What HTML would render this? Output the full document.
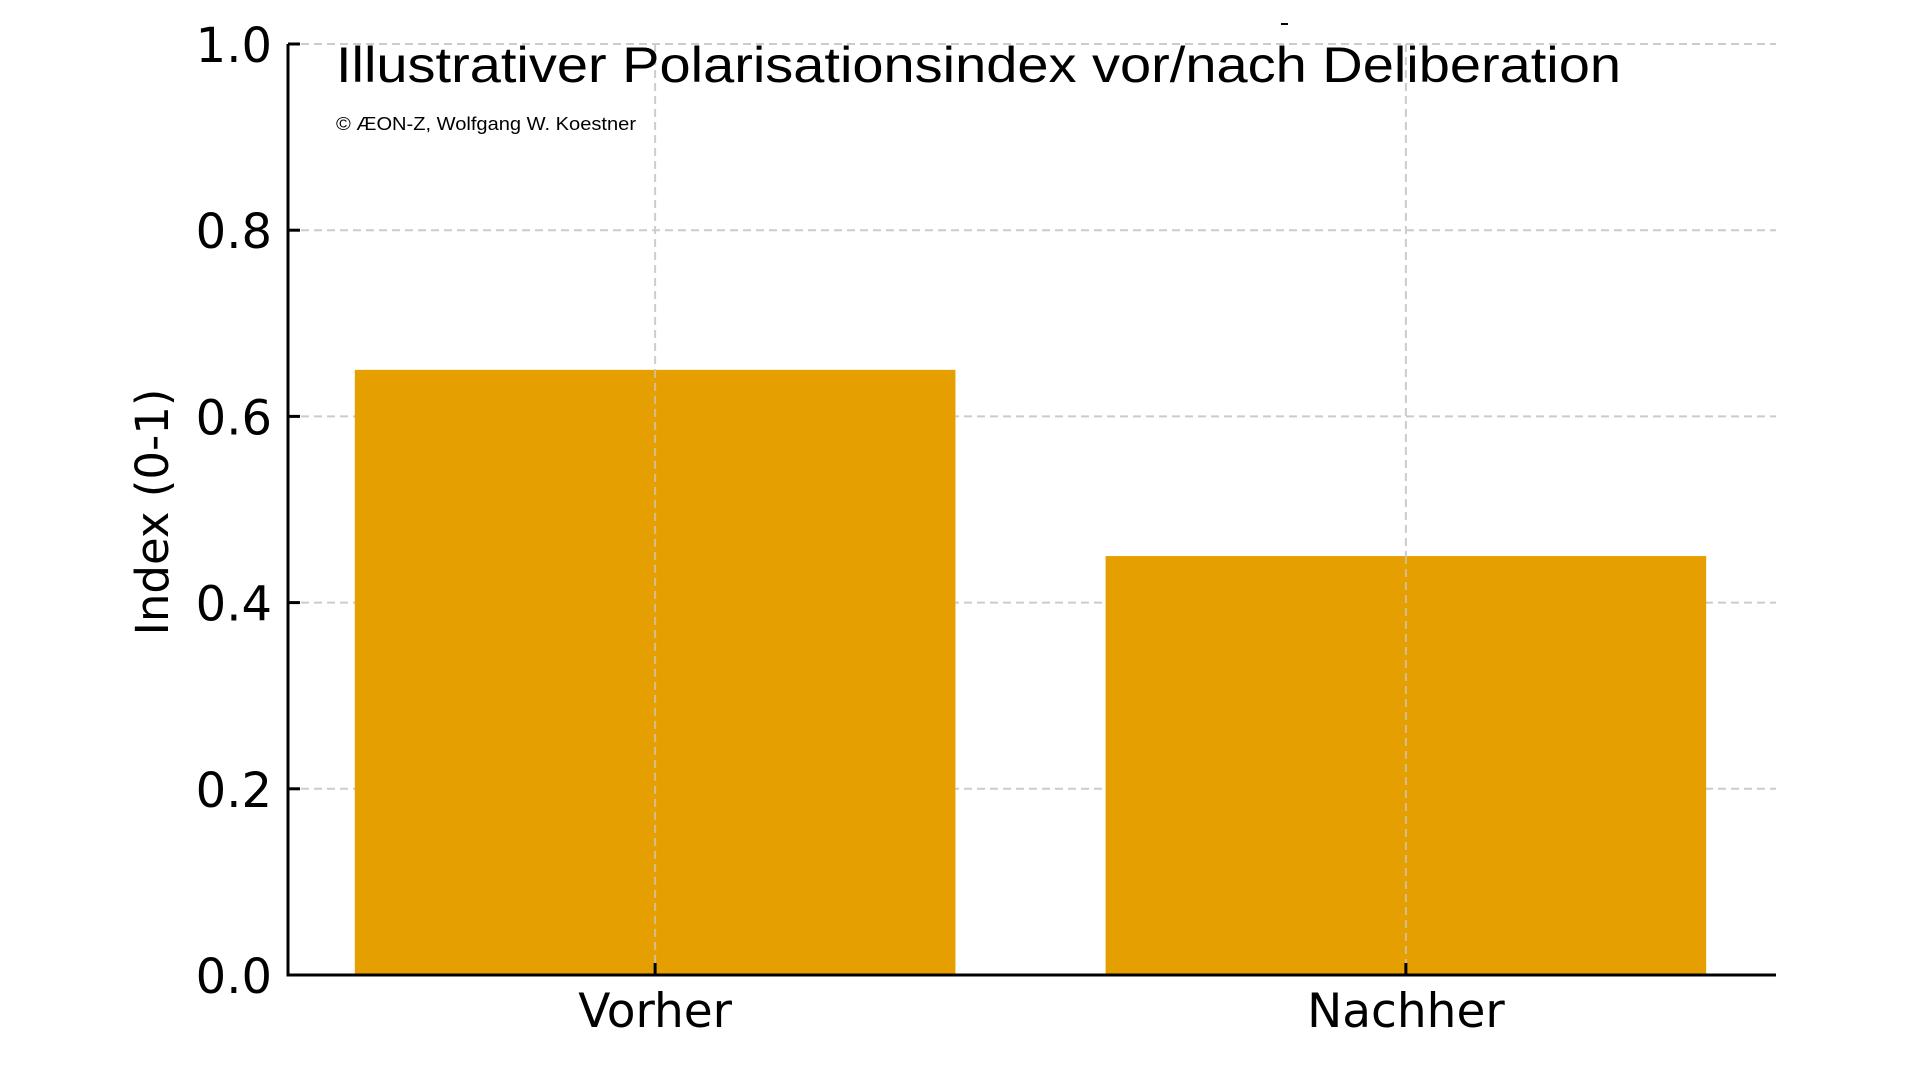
<!DOCTYPE html>
<html><head><meta charset="utf-8"><style>
html,body{margin:0;padding:0;background:#fff;}
svg{display:block;}
</style></head><body>
<svg id="chart" width="1920" height="1080" viewBox="0 0 1920 1080">
<g id="grid"></g>
<g id="bars"></g>
<g id="axes"></g>
<text x="336" y="82" font-family="Liberation Sans, sans-serif" font-size="50" fill="#000" textLength="1285" lengthAdjust="spacingAndGlyphs">Illustrativer Polarisationsindex vor/nach Deliberation</text>
<text x="336" y="130" font-family="Liberation Sans, sans-serif" font-size="18" fill="#000" textLength="300" lengthAdjust="spacingAndGlyphs">© ÆON-Z, Wolfgang W. Koestner</text>
<line x1="1281" y1="24" x2="1288" y2="24" stroke="#000" stroke-width="2"/>
<text transform="translate(168,512) rotate(-90)" text-anchor="middle" font-family="DejaVu Sans, sans-serif" font-size="45" fill="#000">Index (0-1)</text>
</svg>
<script>
const categories = ["Vorher", "Nachher"];
const values = [0.65, 0.45];
const yTicks = [0, 0.2, 0.4, 0.6, 0.8, 1.0];
const yTickLabels = ["0.0", "0.2", "0.4", "0.6", "0.8", "1.0"];

const NS = "http://www.w3.org/2000/svg";
const X0 = 288, X1 = 1776, Y0 = 975, Y1 = 44;
const xMin = -0.489, xMax = 1.493;
function xs(v){ return X0 + (v - xMin) / (xMax - xMin) * (X1 - X0); }
function ys(v){ return Y0 - v * (Y0 - Y1); }
function mk(tag, attrs, parent){
  const e = document.createElementNS(NS, tag);
  for (const k in attrs) e.setAttribute(k, attrs[k]);
  parent.appendChild(e);
  return e;
}
const grid = document.getElementById('grid');
const bars = document.getElementById('bars');
const axes = document.getElementById('axes');

yTicks.forEach((t, i) => {
  const y = ys(t);
  const g = mk('line', {x1: X0, x2: X1, y1: y, y2: y, stroke: '#cccccc', 'stroke-width': 2, 'stroke-dasharray': '8,5'}, grid);
  
  
  const tk = mk('line', {x1: X0, x2: X0 + 12, y1: y, y2: y, stroke: '#000', 'stroke-width': 3}, axes);
  
  
  const lb = mk('text', {x: X0 - 16, y: y + 18, 'text-anchor': 'end', 'font-family': 'DejaVu Sans, sans-serif', 'font-size': 48, fill: '#000'}, axes);
  lb.textContent = yTickLabels[i];
  
  
});

categories.forEach((c, i) => {
  const cx = xs(i);
  const g = mk('line', {x1: cx, x2: cx, y1: Y1, y2: Y0, stroke: '#cccccc', 'stroke-width': 2, 'stroke-dasharray': '8,5'}, grid);
  
  
  const left = xs(i - 0.4), right = xs(i + 0.4);
  const b = mk('rect', {x: left, y: ys(values[i]), width: right - left, height: Y0 - ys(values[i]), fill: '#E69F00'}, bars);
  
  
  const tk = mk('line', {x1: cx, x2: cx, y1: Y0, y2: Y0 - 12, stroke: '#000', 'stroke-width': 3}, axes);
  
  
  const lb = mk('text', {x: cx, y: 1027, 'text-anchor': 'middle', 'font-family': 'DejaVu Sans, sans-serif', 'font-size': 47, fill: '#000'}, axes);
  lb.textContent = c;
  
  
});
categories.forEach((c, i) => {
  const cx = xs(i);
  const g = mk('line', {x1: cx, x2: cx, y1: ys(values[i]), y2: Y0, stroke: '#cccccc', 'stroke-width': 2, 'stroke-dasharray': '8,5', opacity: 0.7}, bars);
  
  
});
const ya = mk('line', {x1: X0, x2: X0, y1: Y1, y2: Y0 + 1.5, stroke: '#000', 'stroke-width': 3}, axes);


const xa = mk('line', {x1: X0 - 1.5, x2: X1, y1: Y0, y2: Y0, stroke: '#000', 'stroke-width': 3}, axes);


</script>
</body></html>
